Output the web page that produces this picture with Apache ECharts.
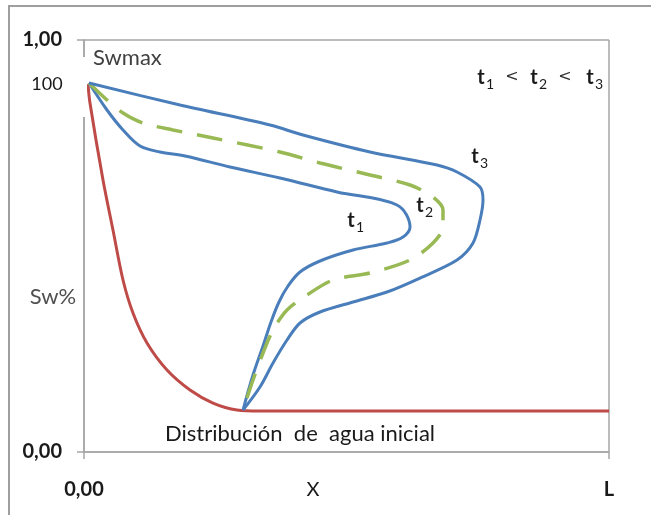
<!DOCTYPE html>
<html>
<head>
<meta charset="utf-8">
<script src="https://cdn.jsdelivr.net/npm/echarts@6/dist/echarts.min.js"></script>
<style>html,body{margin:0;padding:0;background:#fff}#c{width:651px;height:515px}</style>
</head>
<body>
<div id="c"></div>
<script>
// x: fraction of L, y: Sw fraction
const xTickLabels = { 0: '0,00', 1: 'L' };
const yTickLabels = { 0: '0,00', 1: '1,00' };

const initialX = [0.0076, 0.0114, 0.0362, 0.0552, 0.0743, 0.0933, 0.1200, 0.1581, 0.2019, 0.2457, 0.2914, 0.3352, 1.0];
const initialY = [0.8932, 0.8471, 0.6602, 0.5388, 0.4175, 0.3374, 0.2646, 0.1990, 0.1505, 0.1189, 0.1019, 0.0995, 0.0995];

const t1X = [0.0095, 0.0438, 0.0743, 0.1067, 0.1448, 0.1924, 0.2781, 0.3733, 0.4819, 0.5962, 0.6210, 0.6076, 0.5771, 0.5124, 0.4495, 0.4114, 0.3886, 0.3714, 0.3562, 0.3410, 0.3219, 0.3029];
const t1Y = [0.8956, 0.8301, 0.7816, 0.7427, 0.7282, 0.7184, 0.6917, 0.6650, 0.6311, 0.5995, 0.5461, 0.5218, 0.5073, 0.4903, 0.4636, 0.4369, 0.4029, 0.3641, 0.3155, 0.2573, 0.1869, 0.1019];

const t2X = [0.0095, 0.0438, 0.0743, 0.1124, 0.1695, 0.2457, 0.3733, 0.4495, 0.5448, 0.6210, 0.6648, 0.6838, 0.6838, 0.6648, 0.6210, 0.5448, 0.4743, 0.4248, 0.3867, 0.3600, 0.3410, 0.3219, 0.3029];
const t2Y = [0.8956, 0.8544, 0.8228, 0.7985, 0.7816, 0.7621, 0.7282, 0.7015, 0.6723, 0.6481, 0.6189, 0.5874, 0.5461, 0.5073, 0.4660, 0.4345, 0.4175, 0.3811, 0.3447, 0.2961, 0.2403, 0.1748, 0.1019];

const t3X = [0.0095, 0.1829, 0.3543, 0.4171, 0.5448, 0.6724, 0.7105, 0.7543, 0.7600, 0.7543, 0.7410, 0.7105, 0.6400, 0.5771, 0.5124, 0.4495, 0.4114, 0.3867, 0.3600, 0.3352, 0.3029];
const t3Y = [0.8956, 0.8422, 0.7937, 0.7694, 0.7282, 0.6966, 0.6796, 0.6432, 0.6117, 0.5631, 0.5073, 0.4660, 0.4223, 0.3883, 0.3641, 0.3398, 0.3131, 0.2718, 0.2160, 0.1578, 0.1019];

const zip = (xs, ys) => xs.map((x, i) => [x, ys[i]]);

const FONT = 'Lato';
const BLUE = '#4a7ebb', RED = '#be4b48', GREEN = '#98b954', AX = '#a6a6a6';

function tLabel(x, y, sub, size) {
  size = size || 20;
  return [
    { type: 'text', x: x, y: y, z: 60, style: { text: 't', font: 'bold ' + size + 'px ' + FONT, fill: '#1a1a1a', align: 'center', verticalAlign: 'middle' } },
    { type: 'text', x: x + 9, y: y + 6, z: 60, style: { text: sub, font: (size - 6) + 'px ' + FONT, fill: '#1a1a1a', align: 'center', verticalAlign: 'middle' } }
  ];
}
function txt(x, y, s, font, color, align) {
  return { type: 'text', x: x, y: y, z: 60, style: { text: s, font: font, fill: color || '#1a1a1a', align: align || 'center', verticalAlign: 'middle' } };
}

const chart = echarts.init(document.getElementById('c'), null, { renderer: 'canvas' });
chart.setOption({
  animation: false,
  backgroundColor: '#fff',
  grid: { left: 84, top: 40, right: 42, bottom: 63, containLabel: false },
  xAxis: {
    type: 'value', min: 0, max: 1, interval: 1,
    axisLine: { show: true, lineStyle: { color: AX, width: 1.5 } },
    axisTick: { show: true, inside: false, length: 7, lineStyle: { color: AX, width: 1.5 } },
    splitLine: { show: true, lineStyle: { color: AX, width: 1.5 } },
    axisLabel: { margin: 28, fontFamily: FONT, fontSize: 20, fontWeight: 'bold', color: '#1a1a1a', formatter: v => xTickLabels[v] || '' }
  },
  yAxis: {
    type: 'value', min: 0, max: 1, interval: 1,
    axisLine: { show: true, lineStyle: { color: AX, width: 1.5 } },
    axisTick: { show: true, inside: false, length: 7, lineStyle: { color: AX, width: 1.5 } },
    splitLine: { show: true, lineStyle: { color: AX, width: 1.5 } },
    axisLabel: { margin: 22, fontFamily: FONT, fontSize: 20, fontWeight: 'bold', color: '#1a1a1a', formatter: v => yTickLabels[v] || '' }
  },
  series: [
    { type: 'line', data: zip(initialX, initialY), showSymbol: false, smooth: 0.3, lineStyle: { color: RED, width: 3 }, z: 3 },
    { type: 'line', data: zip(t1X, t1Y), showSymbol: false, smooth: 0.35, lineStyle: { color: BLUE, width: 3 }, z: 4 },
    { type: 'line', data: zip(t2X, t2Y), showSymbol: false, smooth: 0.3, lineStyle: { color: GREEN, width: 3.5, type: [26, 15] }, z: 4 },
    { type: 'line', data: zip(t3X, t3Y), showSymbol: false, smooth: 0.3, lineStyle: { color: BLUE, width: 3 }, z: 4 }
  ],
  graphic: [
    { type: 'rect', z: 0, shape: { x: 9, y: 6, width: 700, height: 600 }, style: { fill: null, stroke: '#9e9e9e', lineWidth: 2 } },
    { type: 'rect', z: 50, shape: { x: 78, y: 57, width: 9, height: 60 }, style: { fill: '#fff' } },
    txt(93, 58, 'Swmax', '22px ' + FONT, '#404040', 'left'),
    txt(47, 84, '100', '18px ' + FONT, '#1a1a1a'),
    txt(53, 297, 'Sw%', '22px ' + FONT, '#505050'),
    txt(313, 490, 'X', '20px ' + FONT, '#1a1a1a'),
    txt(300, 434, 'Distribución  de  agua inicial', '22px ' + FONT, '#1a1a1a'),
    ...tLabel(481, 78, '1'),
    txt(512, 77, '<', '16px "DejaVu Sans"', '#333'),
    ...tLabel(534, 78, '2'),
    txt(565, 77, '<', '16px "DejaVu Sans"', '#333'),
    ...tLabel(590, 78, '3'),
    ...tLabel(475, 157, '3'),
    ...tLabel(420, 206, '2'),
    ...tLabel(351, 221, '1')
  ]
});
</script>
</body>
</html>
